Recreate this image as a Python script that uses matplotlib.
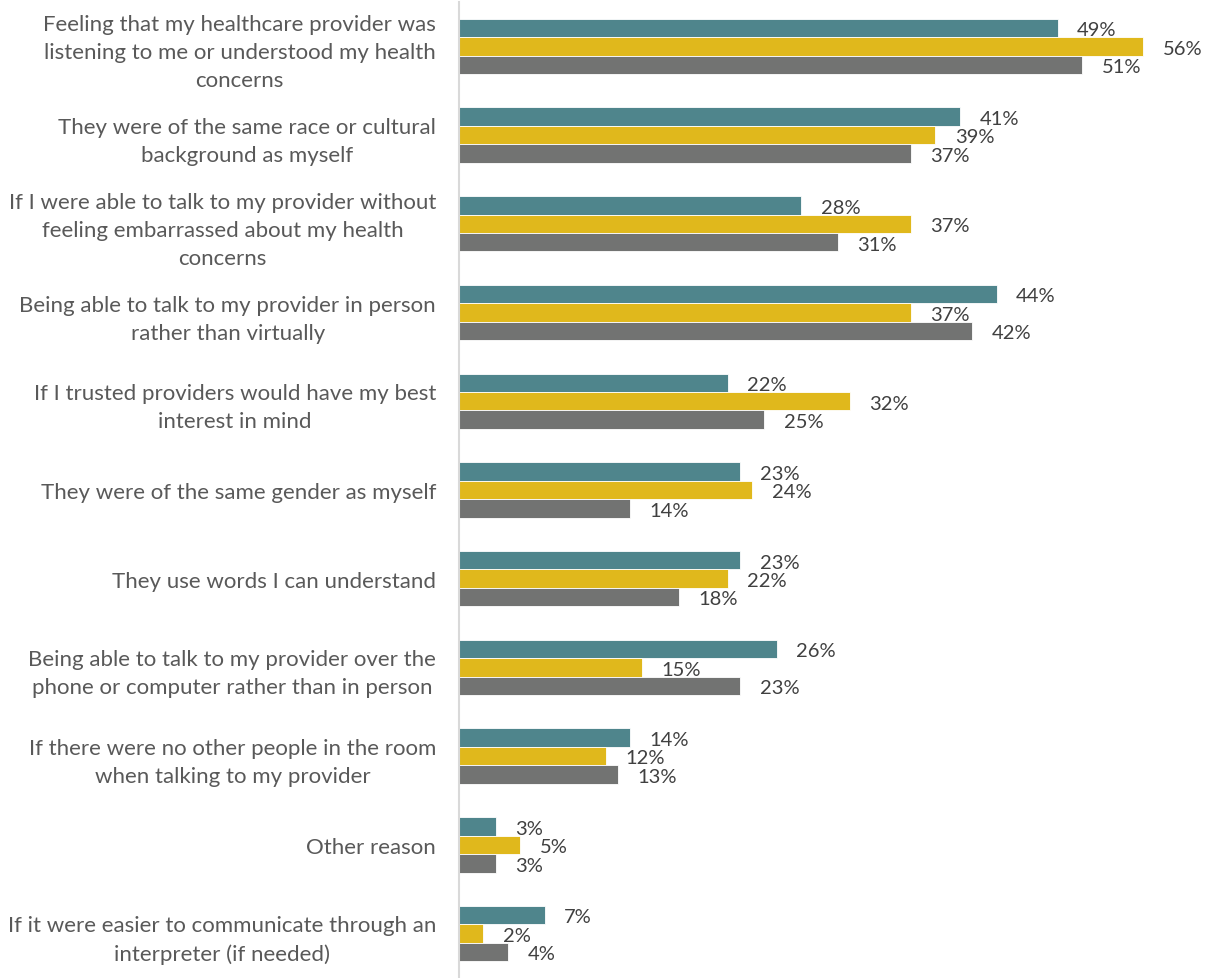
import numpy as np
import matplotlib
matplotlib.use("Agg")
import matplotlib.pyplot as plt

# categories top to bottom
categories = [
    "Feeling that my healthcare provider was\nlistening to me or understood my health\nconcerns",
    "They were of the same race or cultural\nbackground as myself",
    "If I were able to talk to my provider without\nfeeling embarrassed about my health\nconcerns",
    "Being able to talk to my provider in person\nrather than virtually",
    "If I trusted providers would have my best\ninterest in mind",
    "They were of the same gender as myself",
    "They use words I can understand",
    "Being able to talk to my provider over the\nphone or computer rather than in person",
    "If there were no other people in the room\nwhen talking to my provider",
    "Other reason",
    "If it were easier to communicate through an\ninterpreter (if needed)",
]
series_1 = [49, 41, 28, 44, 22, 23, 23, 26, 14, 3, 7]
series_2 = [56, 39, 37, 37, 32, 24, 22, 15, 12, 5, 2]
series_3 = [51, 37, 31, 42, 25, 14, 18, 23, 13, 3, 4]

colors = ["#4F858C", "#E0B81C", "#727372"]

plt.rcParams["font.family"] = ["Lato", "DejaVu Sans"]

fig = plt.figure(figsize=(12.09, 9.79), dpi=100)
ax = fig.add_axes([459 / 1209, 0.0, (1192 - 459) / 1209, 0.997])

y = np.arange(len(categories))
h = 0.208
for k, vals in enumerate([series_1, series_2, series_3]):
    pos = y + (k - 1) * h
    ax.barh(pos, vals, height=h, color=colors[k], edgecolor="white", linewidth=0.6)
    for p, v in zip(pos, vals):
        ax.text(v + 1.6, p + 0.02, f"{v}%", va="center", ha="left", fontsize=14.5, color="#404040")

ax.set_ylim(len(categories) - 0.5, -0.5)
ax.set_xlim(0, 60)
ax.set_yticks(y)
ax.set_yticklabels(categories, fontsize=16, color="#595959", linespacing=1.5)
for lab in ax.get_yticklabels():
    lab.set_multialignment("center")
ax.tick_params(axis="y", length=0, pad=16.5)
ax.set_xticks([])
for s in ["top", "right", "bottom"]:
    ax.spines[s].set_visible(False)
ax.spines["left"].set_color("#D9D9D9")
ax.spines["left"].set_linewidth(1.5)

fig.savefig("out.png", dpi=100)
